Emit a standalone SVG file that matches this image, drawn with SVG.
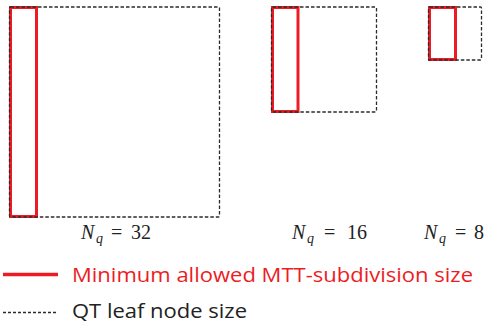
<svg xmlns="http://www.w3.org/2000/svg" width="487" height="323" viewBox="0 0 487 323">
<style>
.qt{fill:none;stroke:#2b2b2b;stroke-width:1.3;stroke-dasharray:3.5 2;}
.mtt{fill:none;stroke:#ed1c24;stroke-width:3;}
.math{font-family:"Liberation Serif","DejaVu Serif",serif;font-size:20px;fill:#222;}
.it{font-style:italic;}
.sub{font-style:italic;font-size:14px;}
.lg{font-family:"Open Sans","Liberation Sans",sans-serif;font-size:19.5px;}
</style>
<rect width="487" height="323" fill="#fff"/>
<g id="node-nq32">
<rect class="mtt" x="10.5" y="7.5" width="26" height="209"/>
<rect class="qt" x="9.5" y="7" width="210" height="210" rx="1"/>
<text class="math it" x="81" y="239">N</text>
<text class="math sub" x="96" y="243">q</text>
<text class="math" x="111" y="239">=</text>
<text class="math" x="131" y="239">32</text>
</g>
<g id="node-nq16">
<rect class="mtt" x="272.5" y="7.5" width="25.5" height="104"/>
<rect class="qt" x="271.5" y="7" width="105" height="105" rx="1"/>
<text class="math it" x="292" y="239">N</text>
<text class="math sub" x="307" y="243">q</text>
<text class="math" x="324" y="239">=</text>
<text class="math" x="347" y="239">16</text>
</g>
<g id="node-nq8">
<rect class="mtt" x="429.5" y="7.5" width="26" height="52"/>
<rect class="qt" x="428.5" y="7" width="53" height="53" rx="1"/>
<text class="math it" x="424" y="239">N</text>
<text class="math sub" x="439" y="243">q</text>
<text class="math" x="455" y="239">=</text>
<text class="math" x="474" y="239">8</text>
</g>
<g id="legend">
<line x1="3" y1="274.5" x2="58" y2="274.5" stroke="#ed1c24" stroke-width="3.5"/>
<text class="lg" x="72" y="282" fill="#ed1c24" textLength="401" lengthAdjust="spacingAndGlyphs">Minimum allowed MTT-subdivision size</text>
<line x1="3" y1="312.5" x2="56" y2="312.5" stroke="#2b2b2b" stroke-width="1.3" stroke-dasharray="3 2"/>
<text class="lg" x="72" y="318" fill="#222" textLength="175" lengthAdjust="spacingAndGlyphs">QT leaf node size</text>
</g>
</svg>
